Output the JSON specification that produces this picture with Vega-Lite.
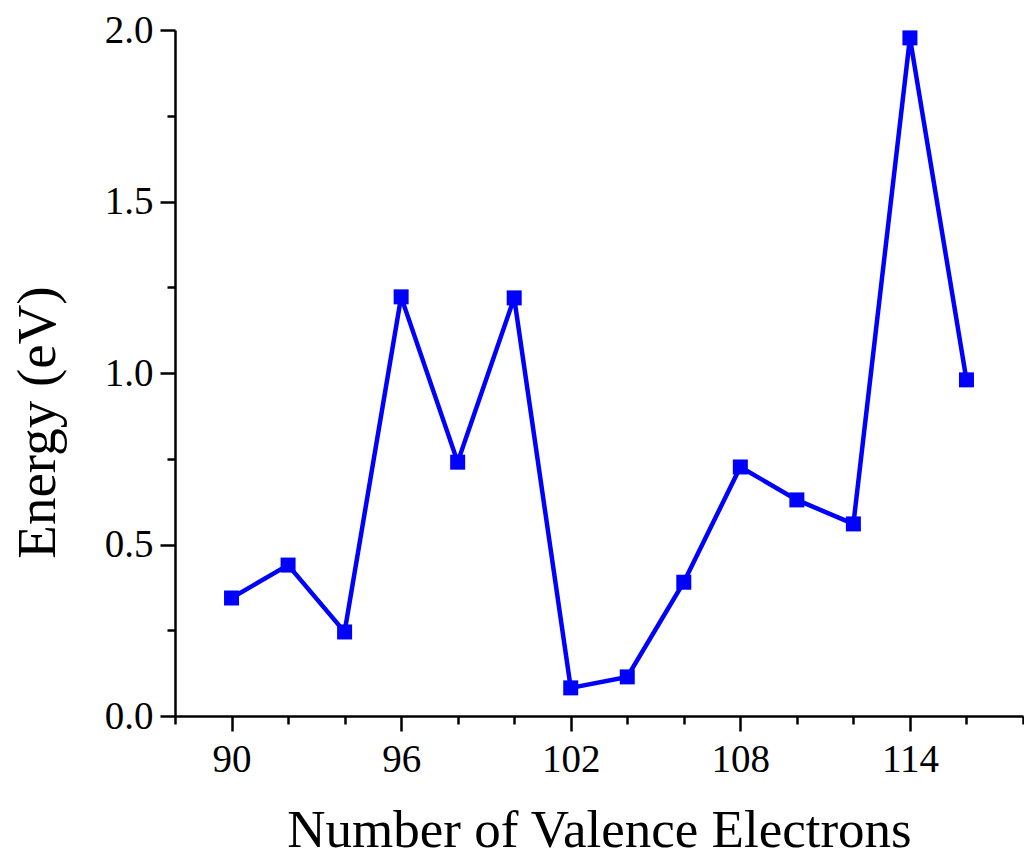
{
  "$schema": "https://vega.github.io/schema/vega-lite/v6.json",
  "width": 848,
  "height": 686,
  "padding": {"left": 175, "top": 30, "right": 1, "bottom": 142},
  "autosize": {"type": "none"},
  "background": "white",
  "config": {
    "view": {"stroke": null},
    "axis": {
      "domainColor": "black",
      "domainWidth": 2.5,
      "tickColor": "black",
      "tickWidth": 2.5,
      "grid": false,
      "labelFont": "Liberation Serif",
      "labelFontSize": 39,
      "labelColor": "black",
      "titleFont": "Liberation Serif",
      "titleFontSize": 53,
      "titleFontWeight": "normal",
      "titleColor": "black"
    }
  },
  "data": {
    "values": [
      {"n": 90, "e": 0.344},
      {"n": 92, "e": 0.44},
      {"n": 94, "e": 0.245},
      {"n": 96, "e": 1.222},
      {"n": 98, "e": 0.74},
      {"n": 100, "e": 1.219},
      {"n": 102, "e": 0.082},
      {"n": 104, "e": 0.114},
      {"n": 106, "e": 0.39},
      {"n": 108, "e": 0.726},
      {"n": 110, "e": 0.63},
      {"n": 112, "e": 0.56},
      {"n": 114, "e": 1.977},
      {"n": 116, "e": 0.98}
    ]
  },
  "encoding": {
    "x": {
      "field": "n",
      "type": "quantitative",
      "scale": {"domain": [88, 118], "nice": false, "zero": false},
      "axis": {
        "title": "Number of Valence Electrons",
        "values": [88, 90, 92, 94, 96, 98, 100, 102, 104, 106, 108, 110, 112, 114, 116, 118],
        "labelExpr": "(datum.value - 90) % 6 === 0 ? datum.label : ''",
        "tickSize": {"condition": {"test": "(datum.value - 90) % 6 === 0", "value": 15}, "value": 8},
        "labelPadding": 9,
        "titlePadding": 25
      }
    },
    "y": {
      "field": "e",
      "type": "quantitative",
      "scale": {"domain": [0, 2], "nice": false},
      "axis": {
        "title": "Energy (eV)",
        "titleFontSize": 55,
        "values": [0, 0.25, 0.5, 0.75, 1, 1.25, 1.5, 1.75, 2],
        "labelExpr": "datum.value % 0.5 === 0 ? format(datum.value, '.1f') : ''",
        "tickSize": {"condition": {"test": "datum.value % 0.5 === 0", "value": 15}, "value": 8},
        "labelPadding": 7,
        "titlePadding": 38,
        "titleY": 392
      }
    }
  },
  "layer": [
    {"mark": {"type": "line", "color": "#0000FF", "strokeWidth": 4.5}},
    {"mark": {"type": "point", "shape": "square", "filled": true, "color": "#0000FF", "size": 225, "opacity": 1}}
  ]
}
